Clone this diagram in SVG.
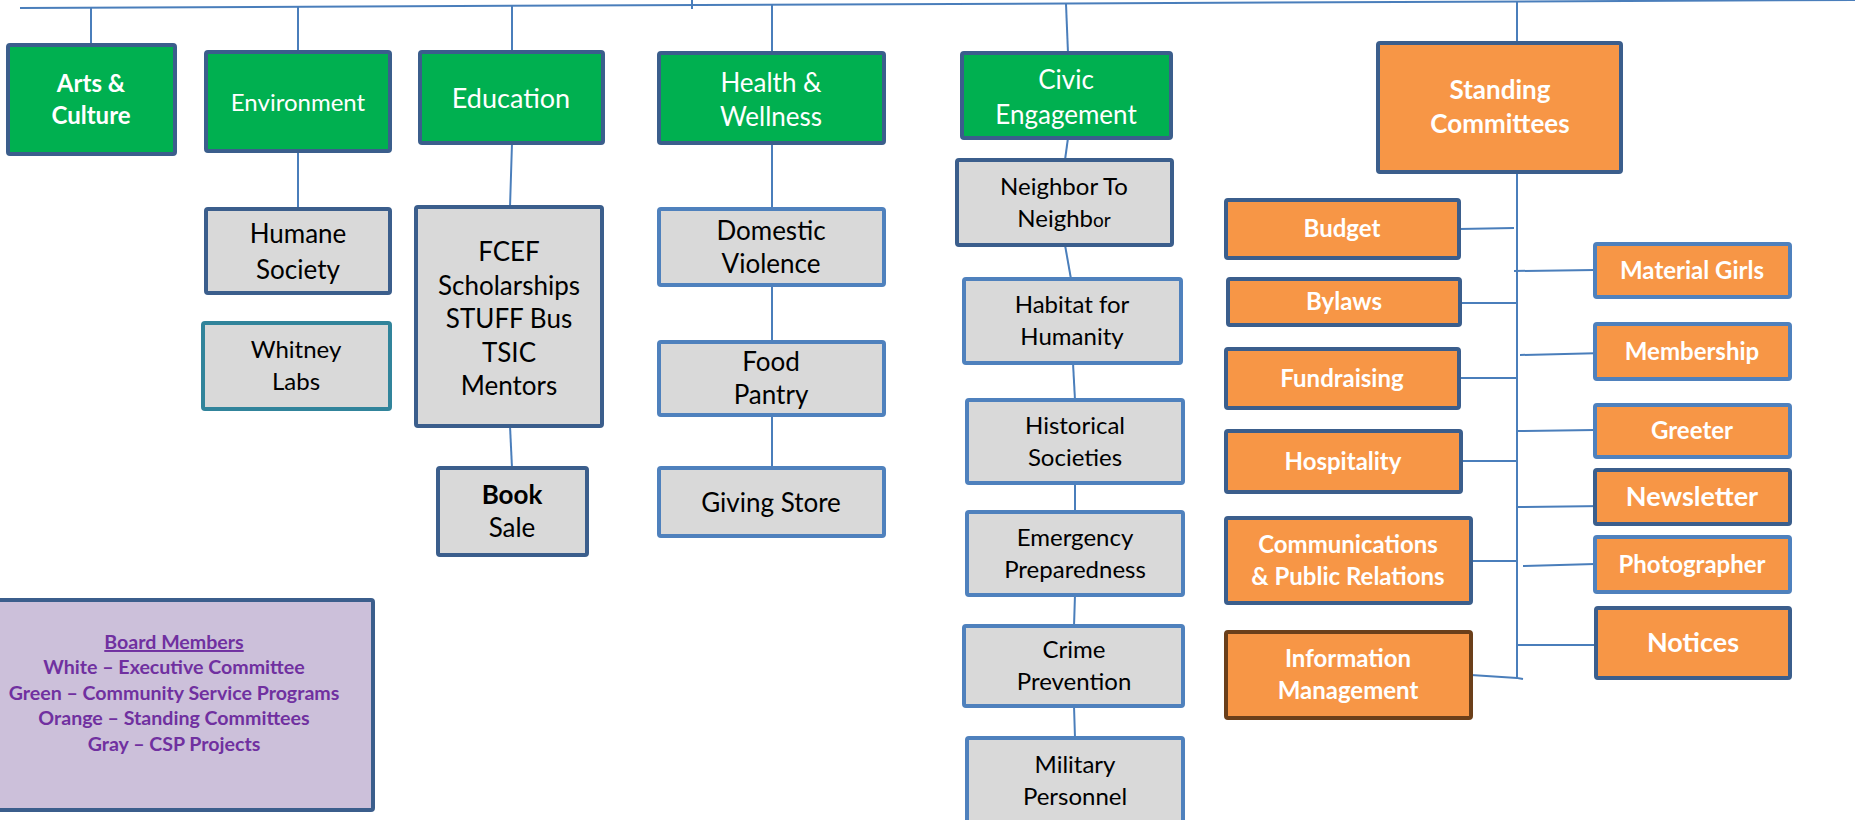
<svg xmlns="http://www.w3.org/2000/svg" width="1855" height="820" viewBox="0 0 1855 820">
<style>
rect{stroke-width:4}
.g{fill:#00B050;stroke:#3B5E8C}
.gy{fill:#D9D9D9;stroke:#3B5E8C}
.gyl{fill:#D9D9D9;stroke:#4F81BD}
.gyt{fill:#D9D9D9;stroke:#31849B}
.o{fill:#F79646;stroke:#3B5E8C}
.ol{fill:#F79646;stroke:#4F81BD}
.ob{fill:#F79646;stroke:#6B3F1A}
.leg{fill:#CCC0DA;stroke:#3B5E8C}
text{font-family:Lato,"Liberation Sans",sans-serif;text-anchor:middle}
.tw{fill:#FFFFFF}
.tb{fill:#000000}
.bold{font-weight:bold}
.tp{fill:#7030A0;font-weight:bold;font-size:19.6px}
#connectors line,#connectors polyline{stroke:#4A7EBB;stroke-width:2;fill:none}
</style>
<rect x="0" y="0" width="1855" height="820" fill="#FFFFFF" stroke="none"/>
<g id="connectors">
<line x1="20" y1="8" x2="1855" y2="0"/>
<line x1="692" y1="0" x2="692" y2="9"/>
<line x1="91" y1="7" x2="91" y2="45"/>
<line x1="298" y1="7" x2="298" y2="52"/>
<line x1="298" y1="151" x2="298" y2="209"/>
<line x1="512" y1="6" x2="512" y2="52"/>
<line x1="512" y1="143" x2="510" y2="207"/>
<line x1="510" y1="426" x2="512" y2="468"/>
<line x1="772" y1="5" x2="772" y2="53"/>
<line x1="772" y1="143" x2="772" y2="209"/>
<line x1="772" y1="285" x2="772" y2="342"/>
<line x1="772" y1="415" x2="772" y2="468"/>
<line x1="1066" y1="4" x2="1068" y2="53"/>
<line x1="1068" y1="138" x2="1065" y2="160"/>
<line x1="1065" y1="245" x2="1071" y2="279"/>
<line x1="1073" y1="363" x2="1075" y2="400"/>
<line x1="1075" y1="483" x2="1075" y2="512"/>
<line x1="1075" y1="595" x2="1074" y2="626"/>
<line x1="1074" y1="706" x2="1075" y2="738"/>
<line x1="1517" y1="1" x2="1517" y2="43"/>
<polyline points="1517,172 1517,678 1523,679"/>
<line x1="1459" y1="229" x2="1514" y2="228"/>
<line x1="1514" y1="271" x2="1595" y2="270"/>
<line x1="1460" y1="303" x2="1517" y2="303"/>
<line x1="1520" y1="355" x2="1605" y2="353"/>
<line x1="1459" y1="378" x2="1517" y2="378"/>
<line x1="1517" y1="431" x2="1595" y2="430"/>
<line x1="1461" y1="461" x2="1517" y2="461"/>
<line x1="1517" y1="507" x2="1605" y2="506"/>
<line x1="1471" y1="561" x2="1517" y2="561"/>
<line x1="1523" y1="566" x2="1595" y2="564"/>
<line x1="1517" y1="645" x2="1608" y2="645"/>
<line x1="1471" y1="675" x2="1517" y2="678"/>
</g>
<g id="arts"><rect class="g" x="8" y="45" width="167" height="109" rx="2"/><text class="tw bold" font-size="24" x="91" y="92">Arts &amp;</text><text class="tw bold" font-size="24" x="91" y="124">Culture</text></g>
<g id="environment"><rect class="g" x="206" y="52" width="184" height="99" rx="2"/><text class="tw" font-size="24" x="298" y="111">Environment</text></g>
<g id="education"><rect class="g" x="420" y="52" width="183" height="91" rx="2"/><text class="tw" font-size="27" x="511" y="108">Education</text></g>
<g id="health"><rect class="g" x="659" y="53" width="225" height="90" rx="2"/><text class="tw" font-size="26" x="771" y="92">Health &amp;</text><text class="tw" font-size="26" x="771" y="126">Wellness</text></g>
<g id="civic"><rect class="g" x="962" y="53" width="209" height="85" rx="2"/><text class="tw" font-size="26" x="1066" y="89">Civic</text><text class="tw" font-size="26" x="1066" y="124">Engagement</text></g>
<g id="standing"><rect class="o" x="1378" y="43" width="243" height="129" rx="2"/><text class="tw bold" font-size="26" x="1500" y="99">Standing</text><text class="tw bold" font-size="26" x="1500" y="133">Committees</text></g>
<g id="humane"><rect class="gy" x="206" y="209" width="184" height="84" rx="2"/><text class="tb" font-size="26" x="298" y="243">Humane</text><text class="tb" font-size="26" x="298" y="279">Society</text></g>
<g id="whitney"><rect class="gyt" x="203" y="323" width="187" height="86" rx="2"/><text class="tb" font-size="24" x="296" y="358">Whitney</text><text class="tb" font-size="24" x="296" y="390">Labs</text></g>
<g id="fcef"><rect class="gy" x="416" y="207" width="186" height="219" rx="2"/><text class="tb" font-size="26" x="509" y="261">FCEF</text><text class="tb" font-size="26" x="509" y="295">Scholarships</text><text class="tb" font-size="26" x="509" y="328">STUFF Bus</text><text class="tb" font-size="26" x="509" y="362">TSIC</text><text class="tb" font-size="26" x="509" y="395">Mentors</text></g>
<g id="booksale"><rect class="gy" x="438" y="468" width="149" height="87" rx="2"/><text class="tb bold" font-size="26" x="512" y="504">Book</text><text class="tb" font-size="26" x="512" y="537">Sale</text></g>
<g id="domestic"><rect class="gyl" x="659" y="209" width="225" height="76" rx="2"/><text class="tb" font-size="26" x="771" y="240">Domestic</text><text class="tb" font-size="26" x="771" y="273">Violence</text></g>
<g id="food"><rect class="gyl" x="659" y="342" width="225" height="73" rx="2"/><text class="tb" font-size="26" x="771" y="371">Food</text><text class="tb" font-size="26" x="771" y="404">Pantry</text></g>
<g id="giving"><rect class="gyl" x="659" y="468" width="225" height="68" rx="2"/><text class="tb" font-size="26" x="771" y="512">Giving Store</text></g>
<g id="neighbor"><rect class="gy" x="957" y="160" width="215" height="85" rx="2"/><text class="tb" font-size="24" x="1064" y="195">Neighbor To</text><text class="tb" font-size="24" x="1064" y="227">Neighb<tspan font-size="19">or</tspan></text></g>
<g id="habitat"><rect class="gyl" x="964" y="279" width="217" height="84" rx="2"/><text class="tb" font-size="24" x="1072" y="313">Habitat for</text><text class="tb" font-size="24" x="1072" y="345">Humanity</text></g>
<g id="historical"><rect class="gyl" x="967" y="400" width="216" height="83" rx="2"/><text class="tb" font-size="24" x="1075" y="434">Historical</text><text class="tb" font-size="24" x="1075" y="466">Societies</text></g>
<g id="emergency"><rect class="gyl" x="967" y="512" width="216" height="83" rx="2"/><text class="tb" font-size="24" x="1075" y="546">Emergency</text><text class="tb" font-size="24" x="1075" y="578">Preparedness</text></g>
<g id="crime"><rect class="gyl" x="964" y="626" width="219" height="80" rx="2"/><text class="tb" font-size="24" x="1074" y="658">Crime</text><text class="tb" font-size="24" x="1074" y="690">Prevention</text></g>
<g id="military"><rect class="gyl" x="967" y="738" width="216" height="92" rx="2"/><text class="tb" font-size="24" x="1075" y="773">Military</text><text class="tb" font-size="24" x="1075" y="805">Personnel</text></g>
<g id="budget"><rect class="o" x="1226" y="200" width="233" height="58" rx="2"/><text class="tw bold" font-size="24" x="1342" y="237">Budget</text></g>
<g id="bylaws"><rect class="o" x="1228" y="279" width="232" height="46" rx="2"/><text class="tw bold" font-size="24" x="1344" y="310">Bylaws</text></g>
<g id="fundraising"><rect class="o" x="1226" y="349" width="233" height="59" rx="2"/><text class="tw bold" font-size="24" x="1342" y="387">Fundraising</text></g>
<g id="hospitality"><rect class="o" x="1226" y="431" width="235" height="61" rx="2"/><text class="tw bold" font-size="24" x="1343" y="470">Hospitality</text></g>
<g id="communications"><rect class="o" x="1226" y="518" width="245" height="85" rx="2"/><text class="tw bold" font-size="24" x="1348" y="553">Communications</text><text class="tw bold" font-size="24" x="1348" y="585">&amp; Public Relations</text></g>
<g id="information"><rect class="ob" x="1226" y="632" width="245" height="86" rx="2"/><text class="tw bold" font-size="24" x="1348" y="667">Information</text><text class="tw bold" font-size="24" x="1348" y="699">Management</text></g>
<g id="materialgirls"><rect class="ol" x="1595" y="244" width="195" height="53" rx="2"/><text class="tw bold" font-size="24" x="1692" y="279">Material Girls</text></g>
<g id="membership"><rect class="ol" x="1595" y="324" width="195" height="55" rx="2"/><text class="tw bold" font-size="24" x="1692" y="360">Membership</text></g>
<g id="greeter"><rect class="ol" x="1595" y="405" width="195" height="52" rx="2"/><text class="tw bold" font-size="24" x="1692" y="439">Greeter</text></g>
<g id="newsletter"><rect class="o" x="1595" y="470" width="195" height="54" rx="2"/><text class="tw bold" font-size="27" x="1692" y="506">Newsletter</text></g>
<g id="photographer"><rect class="ol" x="1595" y="537" width="195" height="55" rx="2"/><text class="tw bold" font-size="24" x="1692" y="573">Photographer</text></g>
<g id="notices"><rect class="o" x="1596" y="608" width="194" height="70" rx="2"/><text class="tw bold" font-size="27" x="1693" y="652">Notices</text></g>
<g id="legend"><rect class="leg" x="-4" y="600" width="377" height="210" rx="2"/>
<text class="tp" x="174" y="649" text-decoration="underline">Board Members</text>
<text class="tp" x="174" y="674">White – Executive Committee</text>
<text class="tp" x="174" y="700">Green – Community Service Programs</text>
<text class="tp" x="174" y="725">Orange – Standing Committees</text>
<text class="tp" x="174" y="751">Gray – CSP Projects</text></g>
</svg>
